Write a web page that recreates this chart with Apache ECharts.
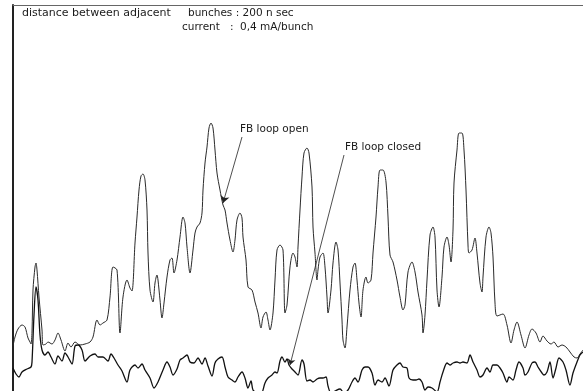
<!DOCTYPE html>
<html><head><meta charset="utf-8">
<script src="https://cdn.jsdelivr.net/npm/echarts@6/dist/echarts.min.js"></script>
<style>html,body{margin:0;padding:0;background:#fff}#c{width:583px;height:391px}</style>
</head><body><div id="c"></div>
<script>
// time axis (arbitrary units) and signal amplitude (arbitrary units)
const openT = [0,2,5,9,12,15,17,18,19,20,22,23,24,26,29,30,33,35,39,42,45,48,52,55,58,62,67,72,77,80,84,87,90,94,97,100,104,107,110,114,117,119,122,124,126,128,130,132,134,135,137,140,142,144,145,147,149,151,154,157,159,161,164,167,170,172,174,177,180,182,184,187,189,190,192,194,196,198,200,202,204,207,210,212,214,217,220,222,224,227,229,230,233,235,239,242,245,248,250,253,255,257,260,262,264,267,270,272,274,277,280,282,284,285,287,289,291,294,296,299,300,302,304,305,307,310,312,314,315,318,320,323,325,327,329,330,332,334,337,340,342,344,346,348,350,353,355,358,360,363,365,367,370,373,375,377,380,384,387,390,392,395,399,402,405,409,410,412,414,417,420,422,424,426,429,431,434,436,438,440,441,444,446,449,451,453,455,456,459,462,464,467,469,470,473,476,478,480,482,484,490,494,498,501,504,508,512,516,519,523,527,530,534,538,541,545,549,553,557,561,564,567,570];
const openA = [45,54,62,66,64,53,49,47,59,101,124,128,121,94,61,46,47,49,47,51,58,51,40,48,44,49,46,47,49,54,71,66,68,71,94,124,121,58,94,111,103,100,148,174,201,215,217,211,181,138,101,89,108,116,111,91,73,88,114,131,133,118,131,154,174,168,144,118,141,158,164,168,178,201,228,244,263,268,263,241,218,201,186,181,168,151,139,151,171,178,173,154,131,104,101,89,78,63,74,79,71,61,78,111,141,146,141,78,86,124,138,134,124,144,181,214,238,243,238,204,164,138,111,121,134,138,124,94,78,101,128,149,141,108,71,51,43,64,101,124,128,111,88,74,101,114,108,111,138,174,204,221,221,209,174,136,129,111,94,81,86,119,129,119,99,76,58,76,111,156,164,154,101,84,114,144,154,146,129,161,208,241,258,258,241,201,146,138,141,153,138,108,99,114,154,164,158,134,88,75,77,66,48,61,69,56,43,56,62,58,49,55,50,47,49,44,46,44,39,34,33,37,41];
const closedT = [0,3,6,9,14,18,19,21,23,25,27,29,32,35,38,42,45,49,52,55,59,62,65,69,72,77,82,85,90,95,98,101,105,109,114,117,122,125,129,132,137,141,145,150,154,157,160,164,167,170,174,177,181,185,189,192,195,199,202,205,209,212,215,219,222,225,229,232,235,238,240,244,248,252,255,259,262,264,267,269,272,274,276,279,282,285,289,291,294,297,300,304,307,310,313,315,318,322,327,331,335,339,342,345,349,352,355,359,362,365,369,372,376,380,384,387,390,394,396,400,403,406,409,412,415,419,424,427,430,434,437,440,444,447,450,454,457,460,464,467,470,474,477,480,484,487,490,494,496,500,503,506,510,512,515,519,522,525,529,531,534,537,540,543,546,550,553,557,560,564,567,570];
const closedA = [23,17,14,19,22,24,29,76,104,91,56,41,36,39,34,27,35,30,38,34,27,45,46,41,30,35,37,34,34,30,37,33,26,20,9,21,26,23,27,21,13,3,9,21,29,24,16,22,31,33,36,29,28,33,27,33,25,15,28,32,34,24,14,11,9,14,19,13,3,10,1,-2,-3,8,13,16,19,18,30,34,29,32,26,22,19,16,31,27,10,11,9,12,13,13,14,5,-2,0,2,-2,1,9,13,9,21,24,24,18,6,11,9,13,5,21,26,28,24,23,13,11,11,12,9,1,4,3,-1,9,19,28,26,28,29,28,29,28,36,29,21,14,16,23,19,26,26,23,18,9,14,11,21,29,23,16,19,28,29,24,18,16,19,29,13,23,33,29,21,6,18,29,36,39];
const headerLine1 = ['distance between adjacent', 'bunches : 200 n sec'];
const headerLine2 = ['current', ':', '0,4 mA/bunch'];
const openLabel = 'FB loop open';
const closedLabel = 'FB loop closed';
// annotation pointers, in data units: [from, to]
const openPointer = [[229,254],[210,188]];
const closedPointer = [[331,236],[277,26]];

const zip = (a,b) => a.map((v,i)=>[v,b[i]]);
const font = '"DejaVu Sans", "Liberation Sans", sans-serif';
const chart = echarts.init(document.getElementById('c'), null, {renderer:'canvas'});
function txt(s, left, top, size){
  return {type:'text', left, top, style:{text:s, font:(size||11)+'px '+font, fill:'#1a1a1a'}};
}
chart.setOption({
  animation:false,
  backgroundColor:'#fff',
  grid:{left:13, top:5, right:0, bottom:0, containLabel:false},
  xAxis:{type:'value', min:0, max:570, position:'top',
    axisLine:{show:true, onZero:false, lineStyle:{color:'#666', width:1}},
    axisTick:{show:false}, axisLabel:{show:false}, splitLine:{show:false}},
  yAxis:{type:'value', min:0, max:386,
    axisLine:{show:true, onZero:false, lineStyle:{color:'#222', width:2}},
    axisTick:{show:false}, axisLabel:{show:false}, splitLine:{show:false}},
  series:[
    {name:openLabel, type:'line', data:zip(openT, openA), showSymbol:false, smooth:0.3,
     lineStyle:{color:'#2a2a2a', width:1},
     markLine:{silent:true, symbol:['none','arrow'], symbolSize:7, label:{show:false},
       lineStyle:{color:'#222', width:0.8, type:'solid'},
       data:[[{coord:openPointer[0]},{coord:openPointer[1]}]]}},
    {name:closedLabel, type:'line', data:zip(closedT, closedA), showSymbol:false, smooth:0.3,
     lineStyle:{color:'#111', width:1.3},
     markLine:{silent:true, symbol:['none','arrow'], symbolSize:6, label:{show:false},
       lineStyle:{color:'#222', width:0.8, type:'solid'},
       data:[[{coord:closedPointer[0]},{coord:closedPointer[1]}]]}}
  ],
  graphic:[
    txt(headerLine1[0], 22, 8, 11),
    txt(headerLine1[1], 188, 8, 10.5),
    txt(headerLine2[0], 182, 22, 10.5),
    txt(headerLine2[1], 230, 22, 10.5),
    txt(headerLine2[2], 240, 22, 10.5),
    txt(openLabel, 240, 124, 10.5),
    txt(closedLabel, 345, 142, 10.5)
  ]
});
</script></body></html>
